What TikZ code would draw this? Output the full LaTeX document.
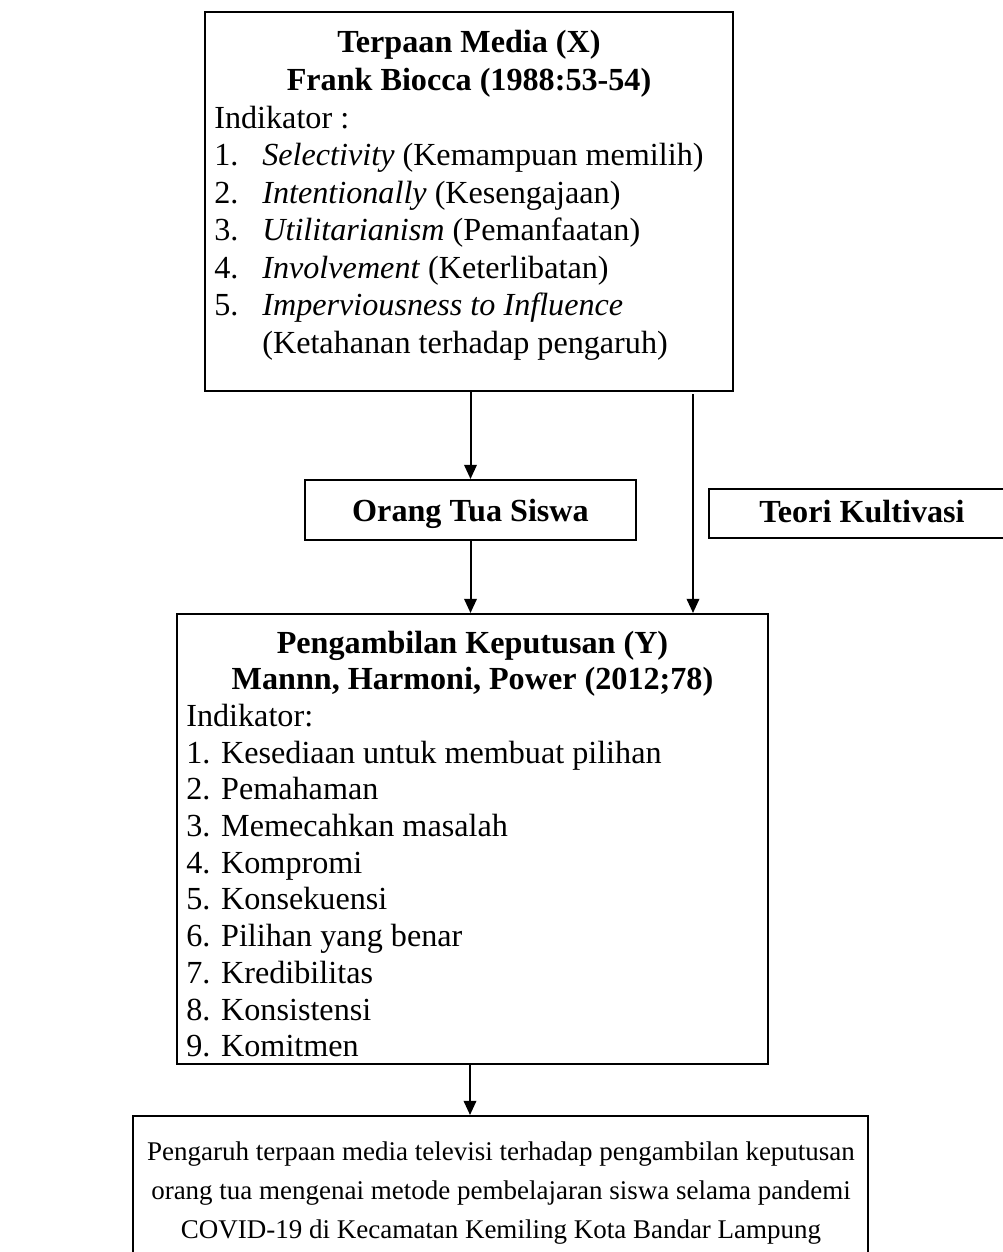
\documentclass[tikz,border=0pt]{standalone}
\usepackage{fontspec}
\setmainfont{Liberation Serif}
\usetikzlibrary{arrows.meta,fit}
\begin{document}
\begin{tikzpicture}[x=0.6pt,y=-0.6pt,
  box/.style={draw, line width=1.2pt, rectangle, inner sep=0pt},
  txt/.style={inner sep=0pt, font=\fontsize{19.3}{22.5}\selectfont},
  ln/.style={txt, anchor=base west},
  ttl/.style={inner sep=0pt, anchor=base, font=\fontsize{19.3}{22.5}\selectfont\bfseries},
  ctr/.style={inner sep=0pt, anchor=base, font=\fontsize{16.2}{20}\selectfont},
  arr/.style={-{Triangle[length=8.5pt,width=7.5pt]}, line width=1.2pt}]
\useasboundingbox (0,0) rectangle (1002,1252);
% box corners
\coordinate (x1) at (205,12);  \coordinate (x2) at (733,391);
\coordinate (o1) at (305,480); \coordinate (o2) at (636,540);
\coordinate (t1) at (709,489); \coordinate (t2) at (1030,538);
\coordinate (y1) at (177,614); \coordinate (y2) at (768,1064);
\coordinate (b1) at (133,1116);\coordinate (b2) at (868,1290);
\node[box, fit=(x1)(x2)] (X) {};
\node[box, fit=(o1)(o2)] (O) {};
\node[box, fit=(t1)(t2)] (T) {};
\node[box, fit=(y1)(y2)] (Y) {};
\node[box, fit=(b1)(b2)] (B) {};
% top box text
\node[ttl] (xt1) at (469,53) {Terpaan Media (X)};
\node[ttl] (xt2) at (469,90.5) {Frank Biocca (1988:53-54)};
\node[ln] (xi) at (214,128) {Indikator :};
\node[ln] (xa) at (214,165.5) {\makebox[28.8pt][l]{1.}\textit{Selectivity} (Kemampuan memilih)};
\node[ln] (xb) at (214,203) {\makebox[28.8pt][l]{2.}\textit{Intentionally} (Kesengajaan)};
\node[ln] (xc) at (214,240.5) {\makebox[28.8pt][l]{3.}\textit{Utilitarianism} (Pemanfaatan)};
\node[ln] (xd) at (214,278) {\makebox[28.8pt][l]{4.}\textit{Involvement} (Keterlibatan)};
\node[ln] (xe) at (214,315.5) {\makebox[28.8pt][l]{5.}\textit{Imperviousness to Influence}};
\node[ln] (xf) at (214,353) {\makebox[28.8pt][l]{}(Ketahanan terhadap pengaruh)};
% middle boxes text
\node[ttl] (ot) at (470.5,521) {Orang Tua Siswa};
\node[ttl] (tt) at (862,522) {Teori Kultivasi};
% Y box text
\node[ttl] (yt1) at (472.5,653) {Pengambilan Keputusan (Y)};
\node[ttl] (yt2) at (472.5,689.7) {Mannn, Harmoni, Power (2012;78)};
\node[ln] (yi) at (186,726.4) {Indikator:};
\node[ln] (y01) at (186,763.1) {1. Kesediaan untuk membuat pilihan};
\node[ln] (y02) at (186,799.8) {2. Pemahaman};
\node[ln] (y03) at (186,836.5) {3. Memecahkan masalah};
\node[ln] (y04) at (186,873.2) {4. Kompromi};
\node[ln] (y05) at (186,909.9) {5. Konsekuensi};
\node[ln] (y06) at (186,946.6) {6. Pilihan yang benar};
\node[ln] (y07) at (186,983.3) {7. Kredibilitas};
\node[ln] (y08) at (186,1020) {8. Konsistensi};
\node[ln] (y09) at (186,1056.7) {9. Komitmen};
% bottom box text
\node[ctr] (bt1) at (501,1160) {Pengaruh terpaan media televisi terhadap pengambilan keputusan};
\node[ctr] (bt2) at (501,1199) {orang tua mengenai metode pembelajaran siswa selama pandemi};
\node[ctr] (bt3) at (501,1238) {COVID-19 di Kecamatan Kemiling Kota Bandar Lampung};
% connectors
\draw[arr] (O.north |- X.south) -- (O.north);
\draw[arr] (O.south) -- (O.south |- Y.north);
\coordinate (r1) at (693,394);
\draw[arr] (r1) -- (r1 |- Y.north);
\coordinate (c) at (470,0);
\draw[arr] (Y.south -| c) -- (B.north -| c);
\end{tikzpicture}
\end{document}
